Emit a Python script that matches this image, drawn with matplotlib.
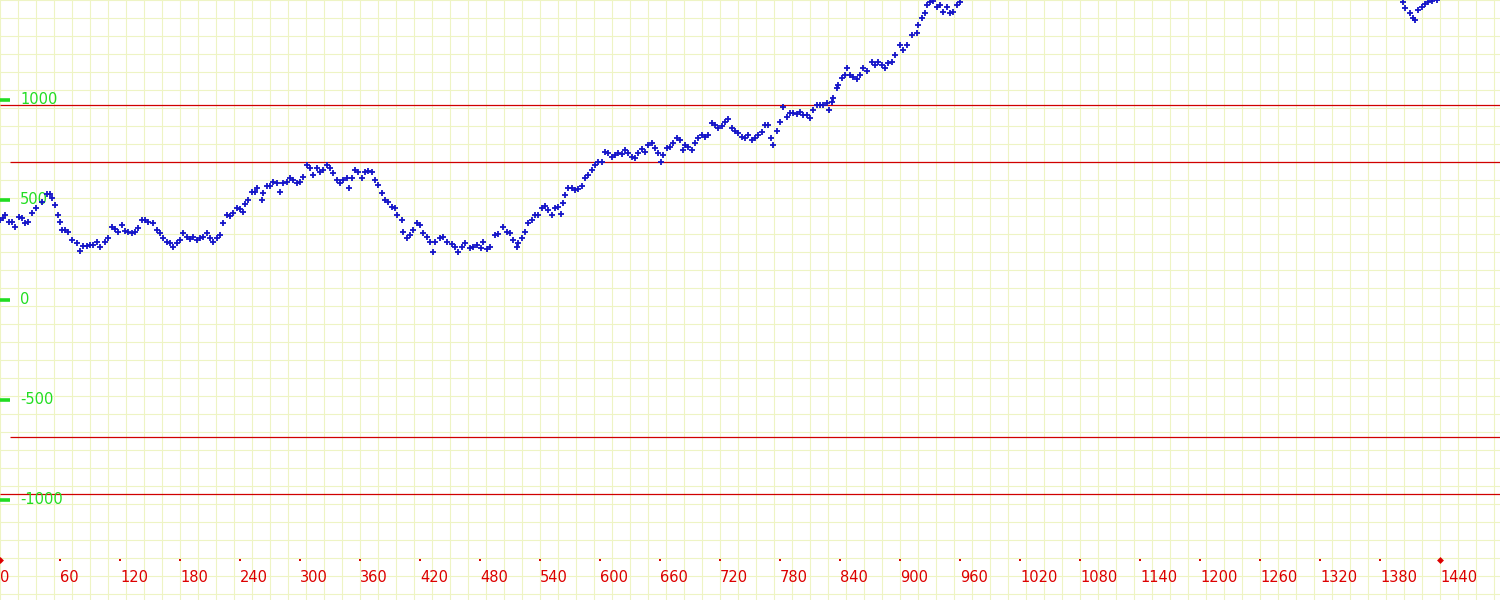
import matplotlib
matplotlib.use("Agg")
import matplotlib.pyplot as plt
import numpy as np

# minute of the day and value
minutes = [0, 3, 5, 9, 12, 15, 19, 22, 25, 28, 32, 36, 42, 47, 50, 52, 55, 58, 60, 62,
           65, 68, 72, 77, 80, 83, 87, 90, 93, 97, 100, 105, 108, 112, 115, 118, 122, 125, 128, 132,
           135, 138, 142, 145, 148, 153, 157, 160, 163, 167, 170, 173, 177, 180, 183, 187, 190, 193, 197, 200,
           203, 207, 210, 213, 217, 220, 223, 227, 230, 233, 237, 240, 243, 245, 248, 252, 255, 257, 262, 263,
           267, 270, 273, 277, 280, 283, 287, 290, 293, 297, 300, 303, 307, 310, 313, 317, 320, 323, 327, 330,
           333, 337, 340, 343, 347, 349, 352, 355, 358, 362, 365, 368, 372, 375, 378, 382, 385, 388, 392, 395,
           397, 402, 403, 407, 410, 413, 417, 420, 423, 427, 430, 433, 435, 440, 443, 447, 452, 455, 458, 462,
           465, 470, 473, 477, 481, 483, 487, 490, 495, 498, 503, 507, 510, 513, 517, 518, 522, 525, 528, 532,
           535, 538, 542, 545, 548, 552, 555, 558, 561, 563, 565, 568, 572, 575, 578, 582, 585, 588, 592, 595,
           598, 602, 605, 608, 612, 615, 618, 622, 625, 628, 632, 635, 638, 642, 645, 648, 652, 655, 658, 661,
           663, 667, 670, 673, 677, 680, 683, 685, 688, 692, 695, 698, 702, 705, 708, 712, 715, 718, 722, 725,
           728, 732, 735, 738, 742, 745, 748, 752, 755, 758, 762, 765, 768, 771, 773, 777, 780, 783, 787, 790,
           793, 797, 800, 803, 807, 810, 813, 817, 820, 823, 827, 829, 832, 833, 837, 838, 842, 845, 847, 850,
           853, 857, 860, 863, 867, 872, 875, 878, 882, 885, 888, 892, 895, 900, 903, 907, 912, 917, 918, 922,
           925, 927, 930, 933, 937, 940, 943, 947, 950, 953, 957, 960,
           1403, 1405, 1410, 1413, 1415, 1418, 1422, 1425, 1428, 1432, 1437]
values = [400, 410, 425, 390, 390, 365, 415, 410, 385, 390, 435, 460, 490, 530, 530, 510, 475, 425, 390, 350,
          350, 340, 300, 285, 245, 270, 270, 275, 275, 290, 265, 290, 310, 365, 355, 340, 375, 345, 340, 335,
          340, 360, 400, 400, 390, 385, 350, 335, 310, 290, 285, 265, 285, 300, 335, 315, 305, 315, 300, 310,
          315, 335, 310, 290, 310, 325, 385, 425, 420, 435, 460, 455, 440, 480, 500, 540, 540, 560, 500, 535,
          570, 570, 590, 585, 540, 585, 590, 610, 600, 585, 590, 615, 675, 660, 625, 660, 640, 650, 675, 660,
          635, 600, 585, 600, 610, 560, 610, 650, 640, 610, 640, 645, 640, 600, 575, 535, 500, 490, 465, 460,
          425, 400, 340, 310, 325, 350, 385, 375, 335, 315, 290, 240, 290, 310, 315, 290, 280, 265, 240, 265,
          285, 260, 265, 275, 260, 290, 255, 265, 325, 330, 365, 340, 335, 300, 265, 285, 310, 340, 385, 400,
          425, 425, 460, 470, 450, 425, 460, 465, 430, 485, 525, 560, 560, 550, 555, 570, 610, 625, 650, 675,
          690, 690, 740, 735, 715, 725, 735, 730, 750, 735, 715, 710, 735, 755, 740, 775, 785, 760, 735, 690,
          725, 760, 765, 785, 810, 800, 750, 775, 765, 750, 785, 810, 825, 815, 825, 885, 875, 860, 870, 890,
          905, 860, 845, 835, 815, 810, 825, 800, 810, 825, 840, 875, 875, 810, 775, 845, 890, 965, 915, 935,
          935, 930, 940, 925, 925, 910, 950, 975, 975, 975, 985, 950, 990, 1010, 1060, 1075, 1110, 1125, 1160, 1125,
          1115, 1105, 1125, 1160, 1145, 1190, 1175, 1190, 1175, 1160, 1185, 1190, 1225, 1275, 1250, 1275, 1325, 1335, 1375, 1410,
          1435, 1475, 1490, 1495, 1465, 1475, 1440, 1465, 1435, 1440, 1475, 1490,
          1490, 1460, 1435, 1410, 1400, 1450, 1465, 1480, 1490, 1495, 1498]

limit_levels = [975, 690, -685, -970]
y_ticks = [1000, 500, 0, -500, -1000]
x_ticks = list(range(0, 1441, 60))

fig = plt.figure(figsize=(15, 6), dpi=100)
ax = fig.add_axes([0, 0, 1, 1])
ax.set_xlim(0, 1500)
ax.set_ylim(-1500, 1500)
ax.axis('off')

# светлая сетка через каждые 18 пикселей
for gx in np.arange(0, 1501, 18):
    ax.axvline(gx, color='#eef4c4', lw=0.8, zorder=0)
for gy in np.arange(1500, -1501, -90):
    ax.axhline(gy, color='#eef4c4', lw=0.8, zorder=0)

# красные уровни
ax.hlines(limit_levels, [0, 10, 10, 0], 1500, color='#d00000', lw=0.9, zorder=2)

# подписи оси y
ax.hlines(y_ticks, 0, 10, color='#22dd22', lw=2.6, zorder=3)
for v in y_ticks:
    ax.text(20, v, str(v), color='#22dd22', fontsize=10.5, va='center', ha='left', zorder=3)

# подписи оси x
ax.plot(x_ticks, [-1300] * len(x_ticks), 's', color='#dd0000', ms=1.5, mew=0, zorder=3)
ax.plot([x_ticks[0], x_ticks[-1]], [-1300, -1300], 'D', color='#dd0000', ms=3.5, mew=0, zorder=3)
for t in x_ticks:
    ax.text(t, -1390, str(t), color='#dd0000', fontsize=10.5, va='center', ha='left', zorder=3)

# данные
ax.plot(minutes, values, '+', color='#1414c8', ms=4.5, mew=1.3, zorder=4)

fig.savefig('out.png', dpi=100)
